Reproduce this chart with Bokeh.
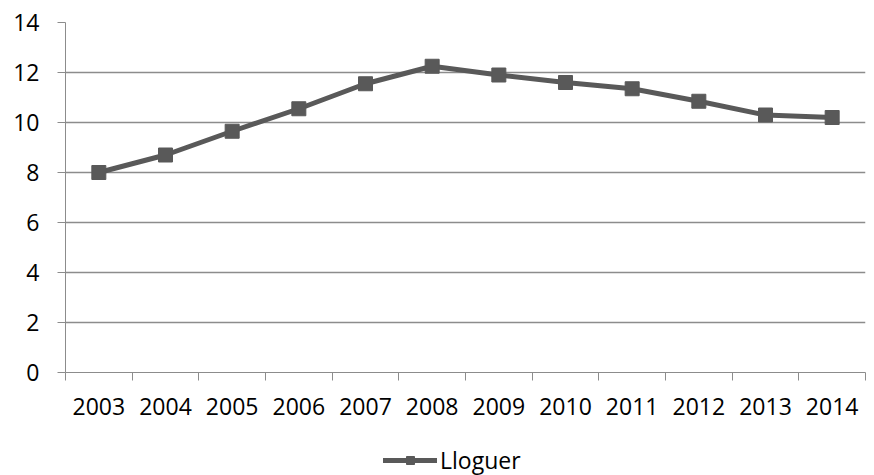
from bokeh.plotting import figure
from bokeh.layouts import column
from bokeh.models import Range1d, FixedTicker, Legend, LegendItem, BasicTickFormatter
from bokeh.embed import file_html
from bokeh.resources import INLINE

years = [2003, 2004, 2005, 2006, 2007, 2008, 2009, 2010, 2011, 2012, 2013, 2014]
lloguer = [8.0, 8.7, 9.65, 10.55, 11.55, 12.25, 11.9, 11.6, 11.35, 10.85, 10.3, 10.2]
series_name = "Lloguer"
y_ticks = [0, 2, 4, 6, 8, 10, 12, 14]

FONT = "Open Sans"
GRID = "#8c8c8c"
LINE = "#595959"

p = figure(frame_width=800, frame_height=350, output_backend="svg", toolbar_location=None,
           x_range=Range1d(years[0] - 0.5, years[-1] + 0.5), y_range=Range1d(0, 14),
           min_border_left=65, min_border_right=9, min_border_top=22, min_border_bottom=60)
p.outline_line_color = None
p.background_fill_color = "white"

r_line = p.line(years, lloguer, line_color=LINE, line_width=5, line_join="round")
r_mark = p.scatter(years, lloguer, marker="square", size=14, fill_color=LINE, line_color=LINE)

# x axis: labels at year centers, tick marks at boundaries
boundaries = [y - 0.5 for y in years] + [years[-1] + 0.5]
p.xaxis.ticker = FixedTicker(ticks=years, minor_ticks=boundaries)
p.xaxis.formatter = BasicTickFormatter(use_scientific=False)
p.xaxis.major_tick_out = 0
p.xaxis.major_tick_in = 0
p.xaxis.minor_tick_out = 8
p.xaxis.minor_tick_in = 0
p.xaxis.minor_tick_line_color = GRID
p.xaxis.axis_line_color = GRID
p.xaxis.major_label_text_font = FONT
p.xaxis.major_label_text_font_size = "23px"
p.xaxis.major_label_text_color = "black"
p.xaxis.major_label_standoff = 17

p.yaxis.ticker = FixedTicker(ticks=y_ticks)
p.yaxis.major_tick_out = 8
p.yaxis.major_tick_in = 0
p.yaxis.minor_tick_line_color = None
p.yaxis.major_tick_line_color = GRID
p.yaxis.axis_line_color = GRID
p.yaxis.major_label_text_font = FONT
p.yaxis.major_label_text_font_size = "23px"
p.yaxis.major_label_text_color = "black"
p.yaxis.major_label_standoff = 18

p.xgrid.grid_line_color = None
p.ygrid.grid_line_color = GRID
p.ygrid.grid_line_width = 1.5

# legend strip below the chart (its frame is aligned with the chart's frame)
lg = figure(width=874, height=43, output_backend="svg", toolbar_location=None,
            x_axis_type=None, y_axis_type=None,
            x_range=Range1d(0, 1), y_range=Range1d(0, 1),
            min_border_left=65, min_border_right=9, min_border_top=0, min_border_bottom=0)
lg.outline_line_color = None
lg.xgrid.grid_line_color = None
lg.ygrid.grid_line_color = None
# same series, outside this strip's visible range: only its legend swatch shows
l_line = lg.line(years, lloguer, line_color=LINE, line_width=5, line_cap="round")
l_mark = lg.scatter(years, lloguer, marker="square", size=14, fill_color=LINE, line_color=LINE)

legend = Legend(items=[LegendItem(label=series_name, renderers=[l_line, l_mark])],
                orientation="horizontal", location=(318, -1),
                label_text_font=FONT, label_text_font_size="23px", label_text_color="black",
                glyph_width=54, glyph_height=20, label_standoff=3,
                border_line_color=None, background_fill_alpha=0,
                margin=0, padding=0)
lg.add_layout(legend, "center")

layout = column(p, lg, spacing=0)
open("out.html", "w").write(file_html(layout, INLINE))
